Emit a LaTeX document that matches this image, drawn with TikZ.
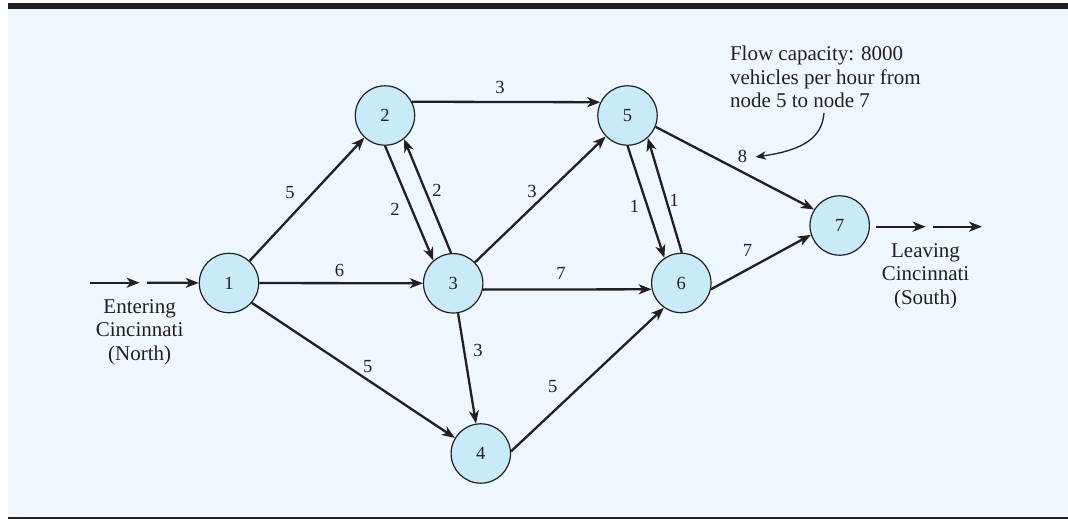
\documentclass[tikz,border=0pt]{standalone}
\usepackage{fontspec}
\setmainfont{Liberation Serif}
\usetikzlibrary{arrows.meta}
\definecolor{bgblue}{RGB}{239,247,254}
\definecolor{nodeblue}{RGB}{200,234,249}
\definecolor{ink}{RGB}{35,31,32}
\begin{document}
\begin{tikzpicture}[x=1pt,y=-1pt,
  vert/.style={circle,draw=ink,fill=nodeblue,line width=1.2pt,minimum size=59.4pt,inner sep=0pt,font=\fontsize{18.5}{18.5}\selectfont,text=ink},
  arc/.style={draw=ink,line width=2.3pt,-{Stealth[length=13pt,width=10pt,inset=3.8pt]}},
  lab/.style={font=\fontsize{18.5}{18.5}\selectfont,text=ink,inner sep=0pt},
  txt/.style={font=\fontsize{21}{23.5}\selectfont,text=ink,inner sep=0pt}]
\useasboundingbox (0,0) rectangle (1068,519);
\fill[bgblue] (7.5,9) rectangle (1068,516.7);
\fill[ink] (7.5,3.3) rectangle (1068,9);
\fill[ink] (7.5,516.7) rectangle (1068,519);

\node[vert] (n1) at (229,283) {1};
\node[vert] (n2) at (385,115.5) {2};
\node[vert] (n3) at (453.2,283.3) {3};
\node[vert] (n4) at (480.8,453.5) {4};
\node[vert] (n5) at (627.5,115.5) {5};
\node[vert] (n6) at (681.3,283) {6};
\node[vert] (n7) at (839.7,225.5) {7};

\coordinate (e1a) at (90,282.7);
\coordinate (e1b) at (139.6,282.7);
\coordinate (e2a) at (147,282.7);
\coordinate (x1a) at (876.3,226.7);
\coordinate (x1b) at (925.7,226.7);
\coordinate (x2a) at (932.5,226.7);
\coordinate (x2b) at (982,226.7);

\draw[arc] (e1a) -- (e1b);
\draw[arc] (e2a) -- (n1);
\draw[arc] (x1a) -- (x1b);
\draw[arc] (x2a) -- (x2b);

\draw[arc] (n1) -- (n2);
\draw[arc] (n1) -- (n3);
\draw[arc] (n1.-41) -- (n4.149);
\draw[arc] (n2.-90) -- (n3.131);
\draw[arc] (n3.94) -- (n2.-51);
\draw[arc] (n2.27) -- (n5.154);
\draw[arc] (n3) -- (n5);
\draw[arc] (n3) -- (n4);
\draw[arc] (n3.-12) -- (n6.192);
\draw[arc] (n4.4) -- (n6.235);
\draw[arc] (n5.-90) -- (n6.124);
\draw[arc] (n6.89) -- (n5.-48);
\draw[arc] (n5.-22) -- (n7.148);
\draw[arc] (n6.-12) -- (n7.198);

\node[lab] (l12) at (290,193) {5};
\node[lab] (l13) at (339.6,270) {6};
\node[lab] (l14) at (367.8,366.7) {5};
\node[lab] (l23) at (395,209) {2};
\node[lab] (l32) at (437,190) {2};
\node[lab] (l25) at (500,87) {3};
\node[lab] (l35) at (532,191) {3};
\node[lab] (l34) at (477.9,350.7) {3};
\node[lab] (l36) at (561,273.3) {7};
\node[lab] (l46) at (552.7,386.7) {5};
\node[lab] (l56) at (634.5,206.7) {1};
\node[lab] (l65) at (674.3,200) {1};
\node[lab] (l57) at (742.4,156) {8};
\node[lab] (l67) at (747.6,250) {7};

\node[txt,align=center] (enter) at (139.6,332) {Entering\\Cincinnati\\(North)};
\node[txt,align=center] (leave) at (925.5,276) {Leaving\\Cincinnati\\(South)};
\node[txt,align=left,anchor=west] (note) at (729.8,77) {Flow capacity: 8000\\vehicles per hour from\\node 5 to node 7};

\coordinate (cA) at (824,113);
\coordinate (cB) at (755.5,157);
\draw[draw=ink,line width=1.3pt,-{Stealth[length=10.5pt,width=8.5pt,inset=3pt]}] (cA) .. controls (822,141) and (797,151) .. (cB);
\end{tikzpicture}
\end{document}
